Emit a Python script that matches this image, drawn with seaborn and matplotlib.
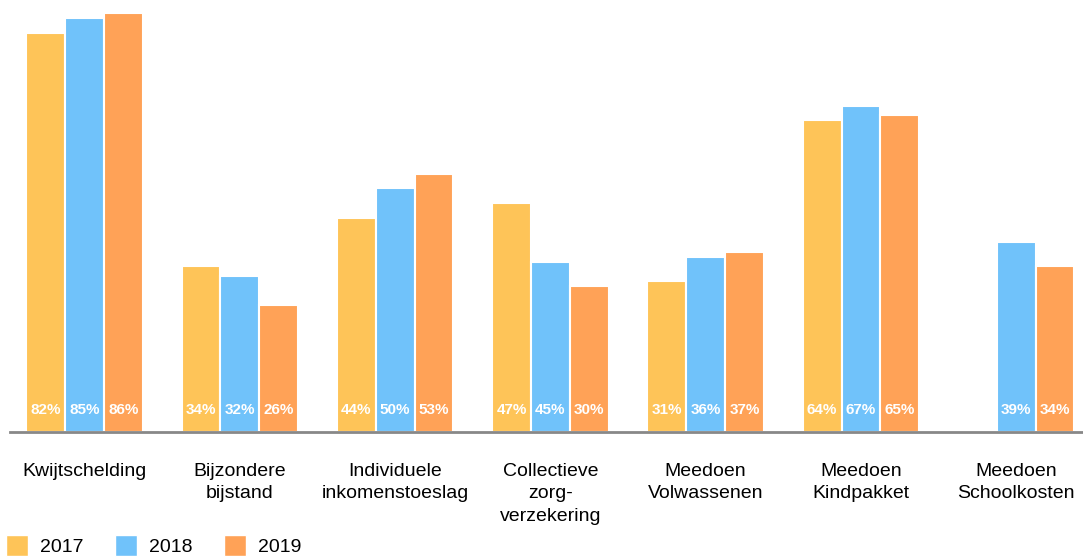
import numpy as np
import pandas as pd
import seaborn as sns
from matplotlib import pyplot as plt
from matplotlib.patches import Patch

categories = ['Kwijtschelding', 'Bijzondere\nbijstand', 'Individuele\ninkomenstoeslag',
              'Collectieve\nzorg-\nverzekering', 'Meedoen\nVolwassenen',
              'Meedoen\nKindpakket', 'Meedoen\nSchoolkosten']
years = ['2017', '2018', '2019']
# bar heights as drawn in the original chart
heights_2017 = [82, 34, 44, 47, 31, 64, np.nan]
heights_2018 = [85, 32, 50, 35, 36, 67, 39]
heights_2019 = [86, 26, 53, 30, 37, 65, 34]
# printed labels (one label in the source differs from its bar)
labels_2017 = ['82%', '34%', '44%', '47%', '31%', '64%', '']
labels_2018 = ['85%', '32%', '50%', '45%', '36%', '67%', '39%']
labels_2019 = ['86%', '26%', '53%', '30%', '37%', '65%', '34%']
colors = ['#FEC458', '#70C2FA', '#FFA257']

heights = [heights_2017, heights_2018, heights_2019]
labels = [labels_2017, labels_2018, labels_2019]

df = pd.DataFrame({
    'category': categories * 3,
    'year': np.repeat(years, len(categories)),
    'value': heights_2017 + heights_2018 + heights_2019,
})

sns.set_style('white')
plt.rcParams['font.family'] = ['Liberation Sans', 'DejaVu Sans']

fig = plt.figure(figsize=(10.83, 5.59), dpi=100)
ax = fig.add_axes([10 / 1083, 1 - 432 / 559, 1 - 10 / 1083, 432 / 559])
sns.barplot(data=df, x='category', y='value', hue='year', hue_order=years,
            palette=colors, saturation=1, width=0.75, edgecolor='white',
            linewidth=1.5, legend=False, ax=ax)

for cont, hs, lbs in zip(ax.containers, heights, labels):
    lbs = [l for h, l in zip(hs, lbs) if not np.isnan(h)]
    for bar, lab in zip(cont, lbs):
        ax.text(bar.get_x() + bar.get_width() / 2, 4.6, lab, ha='center', va='center',
                color='white', fontsize=11, fontweight='bold')

ax.set_xlim(-0.48, 6.43)
ax.set_ylim(0, 88.7)
ax.set_xlabel('')
ax.set_ylabel('')
ax.set_yticks([])
ax.tick_params(axis='x', length=0, pad=22, labelsize=14, labelcolor='black')
for lab in ax.get_xticklabels():
    lab.set_linespacing(1.45)
sns.despine(ax=ax, left=True)
ax.spines['bottom'].set_color('#888888')
ax.spines['bottom'].set_linewidth(2)

handles = [Patch(facecolor=c, label=y) for c, y in zip(colors, years)]
fig.legend(handles=handles, loc='lower left', bbox_to_anchor=(-0.011, -0.026), ncol=3,
           frameon=False, fontsize=14, labelcolor='black', handlelength=1.15,
           handleheight=1.3, columnspacing=1.6, handletextpad=0.62)

fig.savefig('out.png', dpi=100)
plt.close(fig)
